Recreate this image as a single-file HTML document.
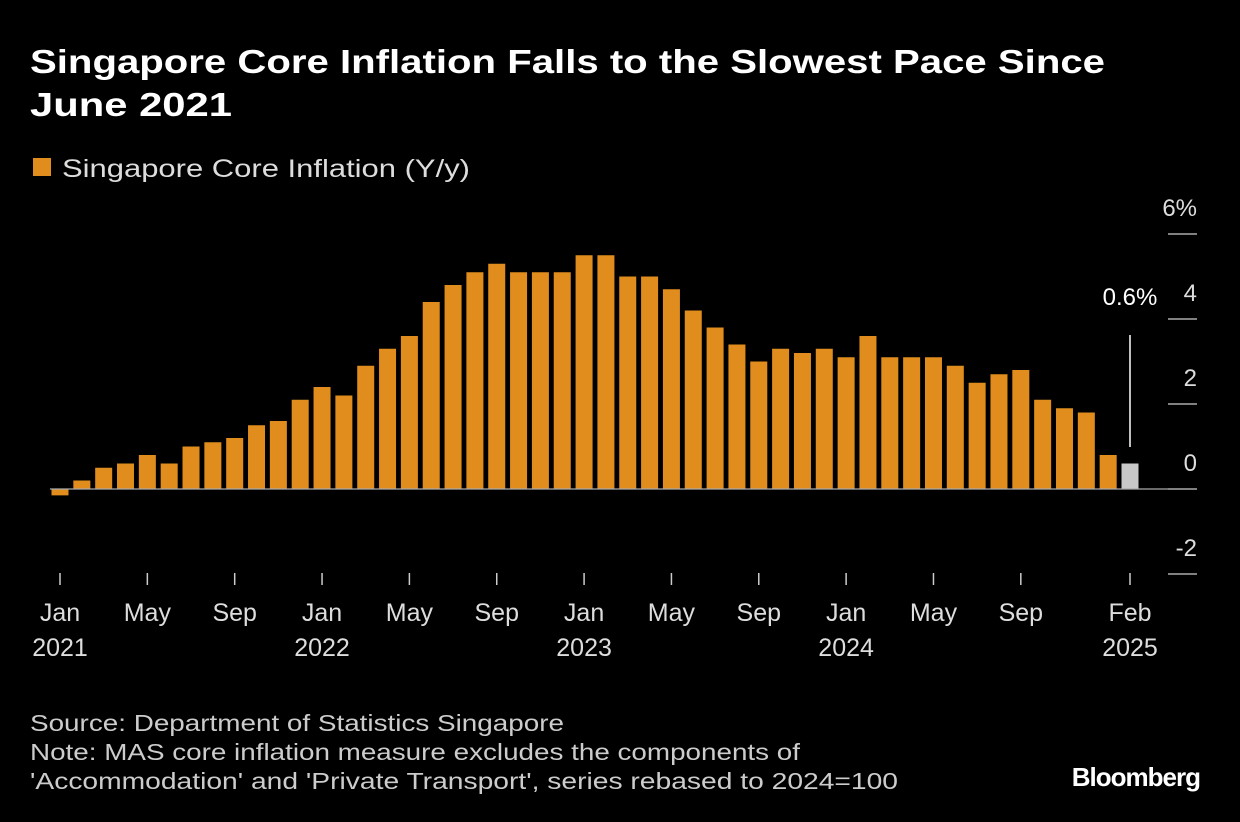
<!DOCTYPE html>
<html><head><meta charset="utf-8"><style>
body{margin:0;background:#000;width:1240px;height:822px;overflow:hidden;font-family:"Liberation Sans",sans-serif;color:#fff}
svg{position:absolute;left:0;top:0}
</style></head><body>
<svg width="1240" height="822">
<text x="30" y="73" font-size="33" font-weight="bold" fill="#fff" textLength="1075" lengthAdjust="spacingAndGlyphs">Singapore Core Inflation Falls to the Slowest Pace Since</text>
<text x="30" y="116" font-size="33" font-weight="bold" fill="#fff" textLength="202" lengthAdjust="spacingAndGlyphs">June 2021</text>
<rect x="33" y="158" width="18" height="18" fill="#e18d1e"/>
<text x="62" y="177" font-size="25" fill="#ddd" textLength="408" lengthAdjust="spacingAndGlyphs">Singapore Core Inflation (Y/y)</text>
<g id="grid"></g><g id="bars"></g><g id="xaxis"></g>
<line x1="1130" y1="335" x2="1130" y2="447" stroke="#fff" stroke-width="1.5"/>
<text x="1130" y="305" font-size="24" fill="#fff" text-anchor="middle">0.6%</text>
<text x="30" y="731" font-size="23" fill="#ccc" textLength="534" lengthAdjust="spacingAndGlyphs">Source: Department of Statistics Singapore</text>
<text x="30" y="760" font-size="23" fill="#ccc" textLength="770" lengthAdjust="spacingAndGlyphs">Note: MAS core inflation measure excludes the components of</text>
<text x="30" y="789" font-size="23" fill="#ccc" textLength="868" lengthAdjust="spacingAndGlyphs">'Accommodation' and 'Private Transport', series rebased to 2024=100</text>
<text x="1200" y="786" font-size="26" font-weight="bold" fill="#fff" text-anchor="end" letter-spacing="-1">Bloomberg</text>
</svg>
<script>
const values=[-0.15,0.2,0.5,0.6,0.8,0.6,1.0,1.1,1.2,1.5,1.6,2.1,2.4,2.2,2.9,3.3,3.6,4.4,4.8,5.1,5.3,5.1,5.1,5.1,5.5,5.5,5.0,5.0,4.7,4.2,3.8,3.4,3.0,3.3,3.2,3.3,3.1,3.6,3.1,3.1,3.1,2.9,2.5,2.7,2.8,2.1,1.9,1.8,0.8,0.6];
const yTicks=[6,4,2,0,-2];
const yTickLabels=["6%","4","2","0","-2"];
const xTickIdx=[0,4,8,12,16,20,24,28,32,36,40,44,49];
const xTickLabels=["Jan","May","Sep","Jan","May","Sep","Jan","May","Sep","Jan","May","Sep","Feb"];
const xYearLabels=["2021","","","2022","","","2023","","","2024","","","2025"];
const NS="http://www.w3.org/2000/svg";
const y=v=>489-v*42.5;
const x=i=>60+i*(1070/49);
function mk(t,a,p){const e=document.createElementNS(NS,t);for(const k in a)e.setAttribute(k,a[k]);p.appendChild(e);return e;}
const grid=document.getElementById('grid'),bars=document.getElementById('bars'),xa=document.getElementById('xaxis');
yTicks.forEach((v,i)=>{
 const l=mk('line',{x1:1168,x2:1197,y1:y(v),y2:y(v),stroke:'#ccc','stroke-width':1.3},grid);
 
 
 const t=mk('text',{x:1197,y:y(v)-18,'font-size':24,fill:'#ddd','text-anchor':'end'},grid);
 t.textContent=yTickLabels[i];
 
 
});
values.forEach((v,i)=>{
 const last=i===values.length-1;
 const r=mk('rect',{x:x(i)-8.5,width:17,y:Math.min(y(v),y(0)),height:Math.abs(y(v)-y(0)),fill:last?'#c8c8c8':'#e18d1e'},bars);
 
 
});
const z=mk('line',{x1:50,x2:1168,y1:y(0),y2:y(0),stroke:'#aaa','stroke-width':1.3},bars);


xTickIdx.forEach((idx,i)=>{
 const tk=mk('line',{x1:x(idx),x2:x(idx),y1:573,y2:585,stroke:'#ccc','stroke-width':1.5},xa);
 
 
 const t=mk('text',{x:x(idx),y:621,'font-size':25,fill:'#ddd','text-anchor':'middle'},xa);
 t.textContent=xTickLabels[i];
 
 
 if(xYearLabels[i]){const t2=mk('text',{x:x(idx),y:656,'font-size':25,fill:'#ddd','text-anchor':'middle'},xa);
 t2.textContent=xYearLabels[i];
 
 }
});
</script>
</body></html>
